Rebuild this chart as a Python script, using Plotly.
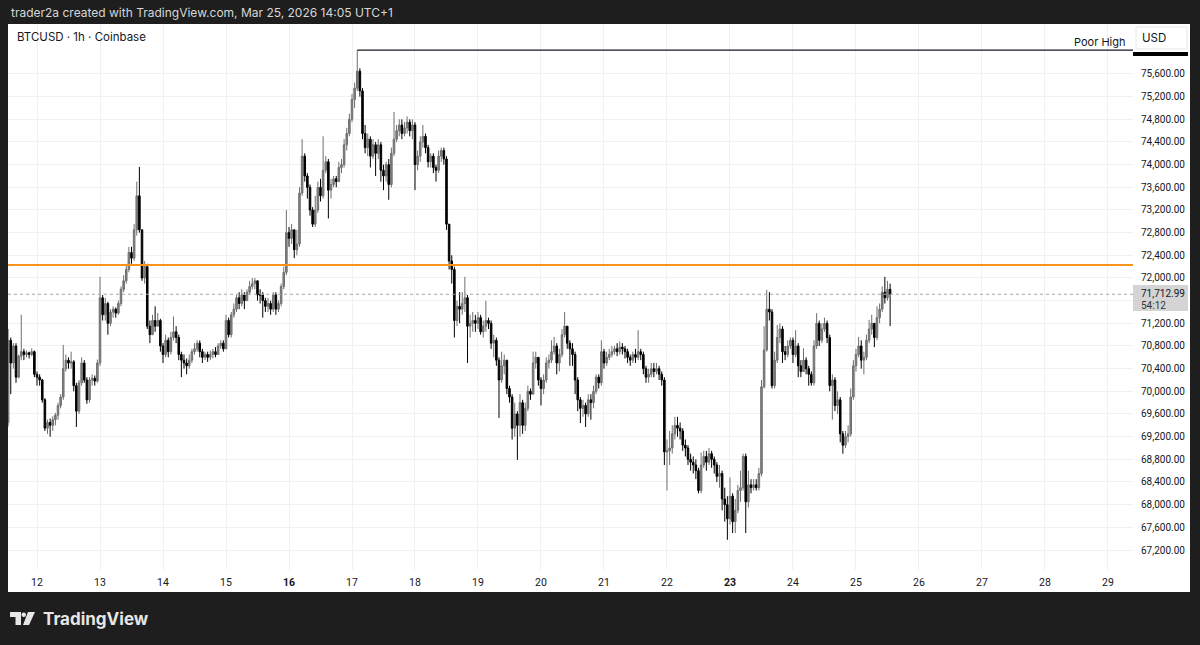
import pandas as pd
import plotly.graph_objects as go

# ---------------- data (hourly BTCUSD) ----------------
start_time = "2026-03-11 13:00"
first_open = 69450
closes = [70900,70500,70800,70250,70620,70700,70650,70680,70650,70700,
70300,70250,70200,69850,69350,69450,69400,69500,69580,69750,
69900,70400,70550,70500,70520,70100,69650,70150,70500,70200,
69850,70200,70230,70180,70500,71650,71350,71550,71200,71400,
71450,71380,71550,71800,71950,72150,72450,72350,72850,73450,
72850,72000,72200,71150,71000,71250,71150,71250,70800,70650,
70900,70700,70950,71050,70950,70650,70550,70500,70450,70550,
70700,70750,70850,70700,70600,70650,70600,70650,70700,70650,
70800,70850,70750,71250,71000,71350,71450,71650,71550,71700,
71600,71750,71850,71900,71950,71700,71700,71600,71500,71550,
71450,71700,71450,71550,71850,72100,72800,72700,72850,72500,
72600,73500,74150,73800,73600,73200,72950,73200,73600,73450,
73900,74050,73550,73650,73750,73700,73950,74000,74350,74550,
74800,75150,75350,75650,75300,74550,74300,74450,74150,74350,
74200,74350,73900,73800,74000,73650,74200,74450,74600,74700,
74550,74650,74750,74600,74700,74000,74150,74400,74500,74300,
74050,74150,73950,73900,74150,74250,74100,72950,72300,72150,
71250,71500,71450,71550,71650,71150,71200,71250,71200,71300,
71050,71150,71250,71200,70850,70900,70550,70200,70450,70550,
70050,69900,69350,69600,69400,69800,69400,69700,70000,69950,
70500,70600,70200,70050,70200,70500,70550,70700,70800,70500,
70650,71000,71150,70850,70750,70650,70200,69850,69700,69750,
69600,69850,69800,70000,70250,70150,70700,70500,70600,70650,
70700,70750,70700,70780,70750,70700,70600,70550,70650,70600,
70700,70650,70400,70250,70300,70400,70350,70400,70300,70200,
68930,68950,69000,69250,69400,69350,69300,69050,69000,68800,
68750,68700,68600,68250,68700,68850,68750,68900,68800,68700,
68500,68550,68100,68000,67750,68150,67700,67900,68250,68300,
68850,68050,68350,68300,68350,68300,68550,70080,70730,71450,
71400,70100,70550,70950,71100,70700,70650,70800,70900,70650,
70800,70450,70350,70550,70400,70300,70150,70800,71200,70900,
71100,71200,70950,70100,70200,69750,69850,69250,69050,69200,
69250,69900,70450,70650,70800,70550,70600,70900,71100,71200,
70950,71300,71450,71750,71650,71800,71712.99]
highs = [71100,70950,70850,70850,70650,71350,70750,70720,70700,70760,
70720,70350,70300,70220,69880,69500,69520,69560,69620,69800,
69950,70820,70650,70600,70700,70550,70150,70200,70600,70550,
70250,70250,70300,70280,70560,72020,71700,71650,71580,71450,
71500,71480,71600,71850,72050,72250,72550,72550,72950,73700,
73960,72850,72300,72250,71250,71350,71500,71380,71280,70850,
71000,70950,71050,71320,71150,71000,70700,70650,70580,70650,
70750,70850,70900,70900,70750,70700,70700,70720,70750,70780,
70850,70900,70900,71350,71300,71400,71550,71700,71750,71800,
71750,71800,71950,72000,72000,71950,71800,71750,71650,71650,
71600,71750,71750,71600,71900,72200,73200,72900,72950,72850,
72850,73600,74450,74200,73850,73650,73250,73450,73700,73750,
74500,74150,74100,73750,73800,73800,74050,74100,74450,74650,
74900,75250,75450,76020,75700,75350,74700,74550,74500,74450,
74400,74450,74400,74000,74050,74100,74300,74930,74700,74800,
74800,74750,74850,74800,74800,74750,74250,74500,74700,74550,
74350,74200,74200,74000,74250,74300,74300,74150,72950,72400,
72200,71600,71750,71750,72020,71700,71350,71400,71350,71400,
71350,71250,71600,71300,71250,71000,70950,70600,70700,70650,
70550,70100,69950,69800,69650,69950,69850,69800,70100,70050,
70700,70700,70600,70250,70300,70600,70650,70900,70960,70850,
70750,71100,71400,71150,70900,70850,70700,70250,69900,69850,
69800,69950,69950,70100,70300,70300,70900,70750,70700,70750,
70800,70800,70850,70880,70850,70800,70750,70650,70700,70750,
71080,70750,70700,70450,70400,70500,70500,70500,70450,70350,
70250,69150,69300,69400,69550,69550,69450,69350,69150,69050,
68900,68850,68800,68650,68920,68950,68950,69000,68950,68850,
68750,68700,68600,68300,68150,68480,68200,68100,68350,68600,
68900,68900,68600,68450,68450,68450,68650,70200,71150,71790,
71750,71450,70700,71170,71200,71150,70800,70900,70950,70950,
71080,70850,70550,70760,70600,70450,70350,70900,71380,71250,
71200,71300,71250,71000,70300,70250,70000,69900,69300,69300,
69400,70050,70550,70750,70960,70900,70700,71000,71260,71350,
71200,71500,71550,71850,72020,71950,71900]
lows = [69380,69950,70400,70150,70230,70550,70550,70600,70580,70620,
70250,70100,70100,69800,69300,69250,69200,69300,69400,69500,
69700,69850,70350,70400,70400,70000,69370,69600,70100,70150,
69780,69800,70100,70100,70150,70450,71250,71250,71000,71150,
71300,71300,71350,71500,71750,71900,72100,72250,72300,72750,
72800,71950,71900,71100,70850,71000,71050,71150,70700,70500,
70600,70600,70650,70900,70850,70550,70250,70400,70300,70400,
70500,70650,70700,70600,70500,70550,70520,70550,70580,70600,
70650,70750,70700,70750,70950,70950,71300,71400,71450,71500,
71450,71600,71700,71800,71800,71600,71550,71300,71400,71400,
71350,71400,71350,71400,71500,71800,72050,72550,72600,72350,
72400,72550,73450,73700,73400,73100,72900,72900,73150,73350,
73400,73850,73050,73400,73600,73600,73700,73850,73950,74250,
74500,74750,75000,75300,75200,74450,74200,74150,73950,74100,
73800,74100,73700,73550,73700,73380,73600,74150,74400,74500,
74450,74500,74550,74500,74450,73550,73900,74050,74300,74200,
73950,73950,73850,73700,73850,74050,74000,72850,72150,71900,
70950,71150,71200,71350,71400,70500,70950,71050,71050,71100,
71000,70950,71050,71100,70750,70600,70450,69530,70150,70300,
69950,69800,69150,69200,68790,69200,69250,69300,69650,69850,
69950,70400,70100,69750,69950,70150,70400,70500,70650,70300,
70350,70600,70950,70750,70450,70450,69950,69650,69440,69550,
69370,69550,69500,69700,69950,70050,70100,70400,70450,70550,
70600,70650,70620,70650,70650,70580,70500,70450,70500,70500,
70550,70550,70300,70150,70150,70250,70250,70300,70200,70100,
68700,68250,68700,68900,69150,69200,69150,68950,68850,68700,
68600,68550,68450,68200,68200,68650,68600,68700,68650,68550,
68400,68300,67900,67700,67380,67650,67500,67500,67850,68050,
68250,67500,67950,68200,68250,68250,68250,68500,70050,70700,
71250,70050,70050,70500,70850,70500,70550,70600,70750,70500,
70600,70250,70250,70350,70300,70100,70100,70100,70750,70800,
70850,71050,70850,70000,69500,69650,69600,69100,68900,69000,
69100,69200,69850,70350,70600,70400,70300,70550,70850,71000,
70780,70900,71200,71400,71550,71600,71150]

orange_level = 72230
poor_high_level = 76020
poor_high_index = 133
last_price = 71712.99
countdown = "54:12"
price_ticks = list(range(67200, 75601, 400))
hidden_tick = 71600  # covered by the last-price label in the picture
day_ticks = list(range(12, 30))
bold_days = [16, 23]

# ---------------- build ----------------
times = pd.date_range(start_time, periods=len(closes), freq="h")
opens = [first_open] + closes[:-1]
highs = [max(h, o, c) for h, o, c in zip(highs, opens, closes)]
lows = [min(l, o, c) for l, o, c in zip(lows, opens, closes)]

W, H = 1200, 645
PL, PR, PT, PB = 8, 1133, 24, 570


def fx(px):
    return (px - PL) / (PR - PL)


def fy(py):
    return (PB - py) / (PB - PT)


FONT = "Inter, Roboto, sans-serif"
AXFONT = "Roboto, Inter, sans-serif"
TXT = "#131722"

fig = go.Figure()
fig.add_trace(go.Candlestick(
    x=times, open=opens, high=highs, low=lows, close=closes,
    increasing=dict(line=dict(color="#6f6f6f", width=1), fillcolor="#828282"),
    decreasing=dict(line=dict(color="#000000", width=1), fillcolor="#000000"),
    whiskerwidth=0, hoverinfo="skip", showlegend=False,
))

x_end = pd.Timestamp("2026-03-29 09:32")
x_start = pd.Timestamp("2026-03-11 12:57")

shapes = [
    # white chart panel
    dict(type="rect", xref="paper", yref="paper", x0=fx(8), x1=fx(1190),
         y0=fy(592), y1=fy(24), fillcolor="white", line=dict(width=0), layer="below"),
    # orange horizontal level
    dict(type="line", xref="paper", yref="y", x0=0, x1=1, y0=orange_level, y1=orange_level,
         line=dict(color="#f7931a", width=2)),
    # Poor High line
    dict(type="line", xref="x", yref="y", x0=times[poor_high_index], x1=x_end,
         y0=poor_high_level, y1=poor_high_level, line=dict(color="#131722", width=1.3)),
    # last price dotted line
    dict(type="line", xref="paper", yref="y", x0=0, x1=1, y0=last_price, y1=last_price,
         line=dict(color="#a3a6af", width=1, dash="dot")),
    # last price label
    dict(type="rect", xref="paper", yref="paper", x0=fx(1133), x1=fx(1188),
         y0=fy(311), y1=fy(285), fillcolor="#d4d4d4", line=dict(width=0)),
    # black bar on price scale
    dict(type="rect", xref="paper", yref="paper", x0=fx(1133), x1=fx(1188),
         y0=fy(56), y1=fy(52), fillcolor="#000000", line=dict(width=0)),
    # USD box
    dict(type="rect", xref="paper", yref="paper", x0=fx(1136), x1=fx(1187),
         y0=fy(49), y1=fy(27), fillcolor="white", line=dict(color="#e6e6e6", width=1)),
    # TradingView logo: T
    dict(type="rect", xref="paper", yref="paper", x0=fx(10), x1=fx(21),
         y0=fy(617), y1=fy(612), fillcolor="#e6e6e6", line=dict(width=0)),
    dict(type="rect", xref="paper", yref="paper", x0=fx(15.5), x1=fx(21),
         y0=fy(625), y1=fy(612), fillcolor="#e6e6e6", line=dict(width=0)),
    # logo dot
    dict(type="circle", xref="paper", yref="paper", x0=fx(21.5), x1=fx(26),
         y0=fy(617), y1=fy(612.5), fillcolor="#e6e6e6", line=dict(width=0)),
    # logo slash
    dict(type="path", xref="paper", yref="paper",
         path="M {} {} L {} {} L {} {} L {} {} Z".format(
             fx(28), fy(612), fx(35), fy(612), fx(29), fy(625), fx(23), fy(625)),
         fillcolor="#e6e6e6", line=dict(width=0)),
]

annotations = [
    dict(text="trader2a created with TradingView.com, Mar 25, 2026 14:05 UTC+1",
         x=fx(9), y=fy(12.5), xanchor="left", yanchor="middle",
         font=dict(family=FONT, size=12, color="#d6d6d6")),
    dict(text="BTCUSD · 1h · Coinbase", x=fx(15), y=fy(37), xanchor="left", yanchor="middle",
         font=dict(family=FONT, size=11.5, color=TXT)),
    dict(text="Poor High", x=fx(1127), y=fy(42), xanchor="right", yanchor="middle",
         font=dict(family=FONT, size=11, color=TXT)),
    dict(text="USD", x=fx(1154), y=fy(38), xanchor="center", yanchor="middle",
         font=dict(family=FONT, size=11.5, color=TXT)),
    dict(text=f"{last_price:,.2f}", x=fx(1139), y=fy(293.5), xanchor="left", yanchor="middle",
         font=dict(family=AXFONT, size=10, color=TXT)),
    dict(text=countdown, x=fx(1139), y=fy(305), xanchor="left", yanchor="middle",
         font=dict(family=AXFONT, size=10, color="#333333")),
    dict(text="<b>TradingView</b>", x=fx(41), y=fy(619), xanchor="left", yanchor="middle",
         font=dict(family=FONT, size=17, color="#e6e6e6")),
]
for a in annotations:
    a.update(xref="paper", yref="paper", showarrow=False)

tick_dates = [pd.Timestamp(f"2026-03-{d:02d}") for d in day_ticks]
tick_text = [f"<b>{d}</b>" if d in bold_days else str(d) for d in day_ticks]
price_text = ["" if v == hidden_tick else f"{v:,.2f}" for v in price_ticks]

fig.update_layout(
    width=W, height=H,
    margin=dict(l=PL, r=W - PR, t=PT, b=H - PB),
    paper_bgcolor="#1e1e1e", plot_bgcolor="white",
    shapes=shapes, annotations=annotations,
    boxgap=0.15,
    xaxis=dict(type="date", range=[x_start, x_end], rangeslider=dict(visible=False),
               tickvals=tick_dates, ticktext=tick_text, showgrid=True, gridcolor="#f1f1f1",
               gridwidth=1, zeroline=False, showline=False, ticks="",
               tickfont=dict(family=AXFONT, size=10.5, color=TXT), ticklabelstandoff=4),
    yaxis=dict(side="right", range=[66847, 76482], tickvals=price_ticks,
               ticktext=price_text, showgrid=True,
               gridcolor="#f1f1f1", gridwidth=1, zeroline=False, showline=False, ticks="",
               tickfont=dict(family=AXFONT, size=10, color=TXT), ticklabelstandoff=7),
    hovermode=False,
)

fig.write_html(
    "out.html",
    config={"displayModeBar": False},
    post_script="document.body.style.margin='0';document.body.style.background='#1e1e1e';"
                "document.documentElement.style.background='#1e1e1e';",
)
